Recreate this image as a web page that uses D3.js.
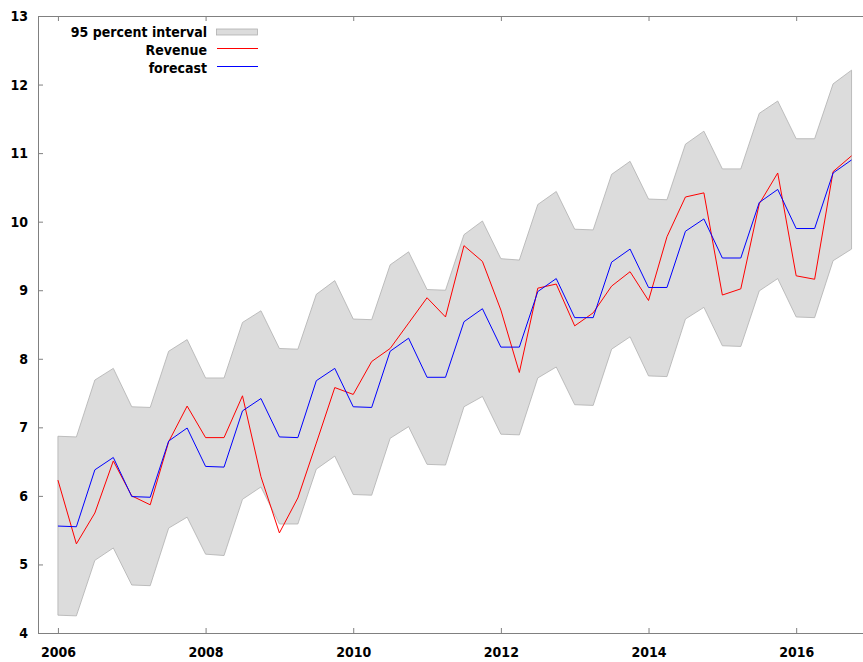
<!DOCTYPE html>
<html>
<head>
<meta charset="utf-8">
<script src="https://d3js.org/d3.v7.min.js"></script>
<style>
  body { margin: 0; background: #fff; }
  svg { display: block; }
  .lbl { font-family: "DejaVu Sans Condensed", "DejaVu Sans", sans-serif; font-weight: bold; font-size: 14px; fill: #000; }
</style>
</head>
<body>
<div id="chart"></div>
<script>
// Quarterly series, 2006 Q1 .. 2016 Q4
const startYear = 2006;
const revenue = [6.23, 5.30, 5.75, 6.51, 6.00, 5.87, 6.79, 7.31, 6.85, 6.85, 7.46, 6.28,
    5.46, 5.97, 6.77, 7.58, 7.48, 7.96, 8.15, 8.52, 8.89, 8.61, 9.65,
    9.42, 8.71, 7.80, 9.03, 9.09, 8.48, 8.67, 9.06, 9.27, 8.85, 9.78,
    10.36, 10.42, 8.93, 9.02, 10.26, 10.71, 9.21, 9.16, 10.73, 10.96];
const forecast = [5.56, 5.55, 6.38, 6.56, 5.99, 5.98, 6.80, 6.99, 6.43, 6.42, 7.24, 7.42,
    6.86, 6.85, 7.68, 7.86, 7.30, 7.29, 8.11, 8.30, 7.73, 7.73, 8.54,
    8.73, 8.17, 8.17, 8.98, 9.17, 8.60, 8.60, 9.41, 9.60, 9.04, 9.04,
    9.86, 10.04, 9.47, 9.47, 10.28, 10.47, 9.90, 9.90, 10.71, 10.90];
const upper95 = [6.87, 6.86, 7.69, 7.86, 7.30, 7.29, 8.11, 8.28, 7.72, 7.72, 8.53, 8.70,
    8.15, 8.14, 8.94, 9.14, 8.58, 8.57, 9.37, 9.56, 9.01, 9.00, 9.81,
    10.01, 9.46, 9.44, 10.25, 10.44, 9.89, 9.88, 10.69, 10.88, 10.33, 10.32,
    11.13, 11.32, 10.77, 10.77, 11.58, 11.76, 11.21, 11.21, 12.01, 12.21];
const lower95 = [4.26, 4.25, 5.06, 5.24, 4.70, 4.69, 5.53, 5.69, 5.15, 5.13, 5.95, 6.13,
    5.59, 5.59, 6.39, 6.58, 6.02, 6.01, 6.84, 7.01, 6.46, 6.45, 7.30,
    7.45, 6.90, 6.89, 7.72, 7.88, 7.33, 7.32, 8.14, 8.32, 7.75, 7.74,
    8.58, 8.75, 8.19, 8.18, 8.99, 9.17, 8.61, 8.60, 9.43, 9.60];
const xTicks = [2006, 2008, 2010, 2012, 2014, 2016];
const yTicks = [4, 5, 6, 7, 8, 9, 10, 11, 12, 13];
const legendItems = ['95 percent interval', 'Revenue', 'forecast'];

const W = 863, H = 662;
const plot = { left: 38, top: 16, right: 870, bottom: 633 };

const data = revenue.map((v, i) => ({
    t: startYear + i * 0.25,
    rev: v,
    fc: forecast[i],
    lo: lower95[i],
    hi: upper95[i]
}));

const svg = d3.select('#chart').append('svg')
    .attr('width', W)
    .attr('height', H);

const x = d3.scaleLinear().domain([2005.73, 2017]).range([plot.left, plot.right]);
const y = d3.scaleLinear().domain([4, 13]).range([plot.bottom, plot.top]);

// confidence band
const band = d3.area()
    .x(d => x(d.t))
    .y0(d => y(d.lo))
    .y1(d => y(d.hi));

svg.append('path')
    .attr('d', band(data))
    .attr('fill', '#dcdcdc')
    .attr('stroke', '#b0b0b0')
    .attr('stroke-width', 0.8);

const line = key => d3.line().x(d => x(d.t)).y(d => y(d[key]));

svg.append('path')
    .datum(data)
    .attr('d', line('rev'))
    .attr('fill', 'none')
    .attr('stroke', '#ff0000')
    .attr('stroke-width', 1);

svg.append('path')
    .datum(data)
    .attr('d', line('fc'))
    .attr('fill', 'none')
    .attr('stroke', '#0000ff')
    .attr('stroke-width', 1);

// axes (ticks point inward, mirrored on top)
const axisColor = '#808080';

const axBottom = svg.append('g')
    .attr('transform', `translate(0,${plot.bottom})`)
    .call(d3.axisBottom(x).tickValues(xTicks).tickFormat(d3.format('d'))
        .tickSizeInner(-5).tickSizeOuter(0).tickPadding(14.5));

const axTop = svg.append('g')
    .attr('transform', `translate(0,${plot.top})`)
    .call(d3.axisTop(x).tickValues(xTicks).tickFormat('')
        .tickSizeInner(-5).tickSizeOuter(0));

const axLeft = svg.append('g')
    .attr('transform', `translate(${plot.left},0)`)
    .call(d3.axisLeft(y).tickValues(yTicks).tickFormat(d3.format('d'))
        .tickSizeInner(-5).tickSizeOuter(0).tickPadding(10));

[axBottom, axTop, axLeft].forEach(a => {
    a.attr('font-family', null).attr('font-size', null);
    a.select('.domain').attr('stroke', axisColor);
    a.selectAll('.tick line').attr('stroke', axisColor);
    a.selectAll('.tick text').attr('class', 'lbl').attr('fill', '#000');
});

// legend
const legend = svg.append('g');
legendItems.forEach((label, i) => {
    const cy = 31 + i * 18;
    legend.append('text')
        .attr('class', 'lbl')
        .attr('x', 207)
        .attr('y', cy + 5.5)
        .attr('text-anchor', 'end')
        .text(label);
    if (i === 0) {
        legend.append('rect')
            .attr('x', 216.5).attr('y', cy - 2)
            .attr('width', 41).attr('height', 6)
            .attr('fill', '#dcdcdc')
            .attr('stroke', '#b0b0b0')
            .attr('stroke-width', 0.8);
    } else {
        legend.append('line')
            .attr('x1', 217).attr('x2', 258)
            .attr('y1', Math.floor(cy - 1) + 0.5).attr('y2', Math.floor(cy - 1) + 0.5)
            .style('stroke', i === 1 ? '#ff0000' : '#0000ff')
            .style('stroke-width', 1);
    }
});
</script>
</body>
</html>
